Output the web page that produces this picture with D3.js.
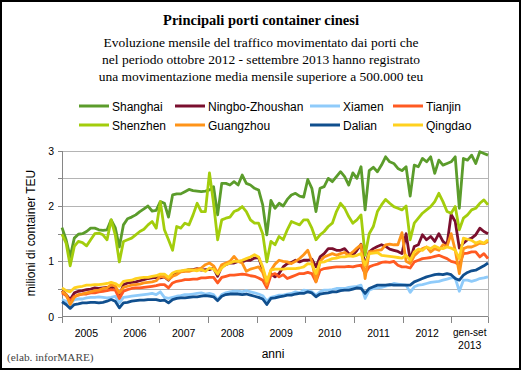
<!doctype html>
<html>
<head>
<meta charset="utf-8">
<script src="https://d3js.org/d3.v7.min.js"></script>
<style>
  body { margin: 0; background: #fff; }
  .axis path, .axis line { stroke: #868686; shape-rendering: crispEdges; }
  .axis text { font-family: "Liberation Sans", Arial, sans-serif; font-size: 10.5px; fill: #000; }
  .grid line { stroke: #b4b4b4; shape-rendering: crispEdges; }
</style>
</head>
<body>
<script>
// monthly values, millions of TEU, Jan 2005 - Sep 2013 (one row per year)
var shanghai = [
  1.61, 1.39, 1.08, 1.42, 1.49, 1.50, 1.54, 1.60, 1.60, 1.57, 1.56, 1.57,
  1.75, 1.61, 1.26, 1.66, 1.77, 1.80, 1.84, 1.90, 1.95, 2.00, 1.91, 1.92,
  2.08, 2.05, 1.80, 2.20, 2.22, 2.22, 2.26, 2.30, 2.28, 2.27, 2.26, 2.27,
  2.29, 2.35, 1.84, 2.41, 2.41, 2.38, 2.44, 2.38, 2.56, 2.41, 2.38, 2.32,
  2.29, 2.02, 1.48, 2.10, 1.96, 2.05, 2.00, 2.12, 2.20, 2.23, 2.18, 2.16,
  2.48, 2.32, 1.90, 2.32, 2.35, 2.50, 2.44, 2.53, 2.62, 2.53, 2.38, 2.60,
  2.50, 2.71, 1.93, 2.64, 2.70, 2.62, 2.74, 2.89, 2.80, 2.77, 2.68, 2.64,
  2.71, 2.18, 2.74, 2.71, 2.86, 2.80, 2.89, 2.59, 2.83, 2.74, 2.77, 2.80,
  2.89, 1.96, 2.86, 2.83, 2.92, 2.77, 2.98, 2.95, 2.92];
var shenzhen = [
  1.49, 1.33, 0.92, 1.27, 1.36, 1.34, 1.28, 1.39, 1.50, 1.51, 1.48, 1.39,
  1.75, 1.48, 0.99, 1.36, 1.39, 1.42, 1.48, 1.54, 1.58, 1.66, 1.72, 1.60,
  2.08, 1.57, 1.39, 1.20, 1.63, 1.60, 1.69, 1.66, 1.84, 2.05, 1.90, 1.90,
  2.60, 2.05, 1.39, 1.75, 1.78, 1.80, 1.90, 1.93, 1.99, 1.90, 1.75, 1.69,
  1.69, 1.50, 0.99, 1.36, 1.30, 1.45, 1.39, 1.57, 1.72, 1.69, 1.66, 1.75,
  1.75, 1.60, 1.39, 1.48, 1.54, 1.63, 1.69, 1.90, 2.05, 1.96, 1.81, 1.69,
  1.75, 1.84, 1.11, 1.50, 1.63, 1.90, 2.02, 2.12, 2.05, 1.99, 1.96, 1.93,
  2.00, 1.39, 1.69, 1.78, 1.87, 1.93, 1.99, 2.08, 2.23, 2.08, 1.90, 1.87,
  1.99, 1.57, 1.78, 1.84, 1.93, 1.96, 2.05, 2.11, 2.02];
var ningbo = [
  0.47, 0.40, 0.31, 0.43, 0.46, 0.47, 0.49, 0.50, 0.52, 0.51, 0.52, 0.53,
  0.52, 0.54, 0.37, 0.58, 0.61, 0.62, 0.63, 0.65, 0.67, 0.69, 0.70, 0.71,
  0.70, 0.72, 0.66, 0.76, 0.79, 0.82, 0.83, 0.85, 0.85, 0.87, 0.84, 0.85,
  0.85, 0.88, 0.73, 0.91, 0.94, 0.97, 0.97, 1.00, 0.99, 1.02, 1.02, 1.06,
  1.07, 0.85, 0.62, 0.78, 0.72, 0.78, 0.90, 0.96, 0.98, 1.02, 0.99, 1.02,
  1.02, 1.04, 0.90, 1.08, 1.14, 1.23, 1.23, 1.20, 1.20, 1.23, 1.14, 1.11,
  1.20, 1.31, 0.93, 1.17, 1.23, 1.27, 1.30, 1.27, 1.22, 1.20, 1.18, 1.14,
  1.50, 1.02, 1.27, 1.30, 1.48, 1.39, 1.45, 1.36, 1.50, 1.36, 1.30, 1.85,
  1.72, 1.24, 1.33, 1.39, 1.42, 1.48, 1.60, 1.54, 1.50];
var guangzhou = [
  0.46, 0.40, 0.22, 0.35, 0.40, 0.41, 0.43, 0.45, 0.47, 0.48, 0.51, 0.52,
  0.58, 0.55, 0.43, 0.53, 0.55, 0.57, 0.58, 0.59, 0.61, 0.62, 0.63, 0.65,
  0.73, 0.72, 0.67, 0.73, 0.76, 0.81, 0.82, 0.82, 0.84, 0.86, 0.88, 0.94,
  0.97, 0.92, 0.79, 0.94, 0.97, 1.00, 1.09, 1.00, 0.97, 0.82, 0.86, 0.88,
  0.90, 0.80, 0.58, 0.84, 0.95, 1.02, 1.00, 0.99, 0.96, 1.00, 1.05, 1.12,
  1.20, 1.00, 0.63, 1.00, 1.08, 1.11, 1.14, 1.11, 1.14, 1.16, 1.11, 1.17,
  1.24, 1.30, 0.69, 1.17, 1.18, 1.20, 1.21, 1.30, 1.31, 1.30, 1.30, 1.52,
  1.00, 0.96, 1.10, 1.17, 1.23, 1.26, 1.17, 1.23, 1.20, 1.30, 1.27, 1.50,
  1.20, 0.78, 1.23, 1.26, 1.26, 1.29, 1.33, 1.32, 1.36];
var qingdao = [
  0.52, 0.47, 0.45, 0.52, 0.54, 0.55, 0.57, 0.57, 0.58, 0.58, 0.59, 0.60,
  0.62, 0.60, 0.55, 0.64, 0.65, 0.66, 0.69, 0.70, 0.71, 0.71, 0.73, 0.74,
  0.77, 0.77, 0.71, 0.79, 0.82, 0.83, 0.84, 0.85, 0.84, 0.83, 0.85, 0.82,
  0.88, 0.86, 0.77, 0.88, 0.94, 0.97, 1.00, 1.00, 1.02, 1.05, 1.08, 1.12,
  1.08, 0.90, 0.64, 0.84, 0.86, 0.86, 0.86, 0.87, 0.87, 0.87, 0.88, 0.90,
  0.96, 0.95, 0.78, 0.98, 0.99, 1.02, 1.05, 1.06, 1.08, 1.08, 1.10, 1.09,
  1.11, 1.14, 0.93, 1.14, 1.15, 1.16, 1.11, 1.10, 1.09, 1.08, 1.07, 1.06,
  1.11, 1.02, 1.17, 1.22, 1.20, 1.26, 1.23, 1.28, 1.24, 1.23, 1.26, 1.24,
  1.20, 1.05, 1.42, 1.40, 1.38, 1.33, 1.36, 1.33, 1.39];
var tianjin = [
  0.43, 0.38, 0.28, 0.37, 0.39, 0.41, 0.41, 0.43, 0.43, 0.45, 0.46, 0.47,
  0.49, 0.48, 0.33, 0.46, 0.49, 0.51, 0.52, 0.52, 0.53, 0.54, 0.55, 0.56,
  0.58, 0.58, 0.52, 0.61, 0.64, 0.65, 0.67, 0.67, 0.68, 0.68, 0.70, 0.70,
  0.71, 0.71, 0.61, 0.71, 0.73, 0.75, 0.75, 0.76, 0.77, 0.76, 0.74, 0.73,
  0.70, 0.66, 0.52, 0.75, 0.78, 0.72, 0.76, 0.69, 0.72, 0.75, 0.78, 0.78,
  0.80, 0.78, 0.63, 0.84, 0.87, 0.88, 0.89, 0.90, 0.90, 0.90, 0.91, 0.90,
  0.92, 0.93, 0.78, 0.90, 0.93, 0.95, 0.98, 0.99, 0.98, 1.00, 0.93, 0.90,
  0.90, 0.88, 0.99, 1.02, 1.05, 1.06, 1.07, 1.09, 1.11, 1.08, 1.05, 1.00,
  0.98, 0.94, 1.14, 1.15, 1.17, 1.17, 1.08, 1.14, 1.05];
var xiamen = [
  0.31, 0.28, 0.23, 0.31, 0.32, 0.32, 0.34, 0.35, 0.35, 0.36, 0.35, 0.34,
  0.35, 0.37, 0.25, 0.35, 0.36, 0.37, 0.38, 0.39, 0.40, 0.41, 0.42, 0.40,
  0.45, 0.35, 0.33, 0.35, 0.37, 0.38, 0.40, 0.40, 0.41, 0.42, 0.43, 0.41,
  0.42, 0.40, 0.31, 0.40, 0.43, 0.45, 0.46, 0.46, 0.45, 0.47, 0.45, 0.43,
  0.41, 0.38, 0.28, 0.35, 0.37, 0.39, 0.39, 0.41, 0.42, 0.45, 0.43, 0.48,
  0.47, 0.45, 0.39, 0.45, 0.48, 0.48, 0.49, 0.51, 0.51, 0.51, 0.53, 0.54,
  0.55, 0.57, 0.33, 0.48, 0.51, 0.52, 0.53, 0.55, 0.57, 0.60, 0.59, 0.58,
  0.57, 0.44, 0.54, 0.57, 0.58, 0.60, 0.62, 0.63, 0.64, 0.66, 0.68, 0.70,
  0.70, 0.46, 0.66, 0.66, 0.64, 0.66, 0.69, 0.70, 0.72];
var dalian = [
  0.27, 0.22, 0.15, 0.22, 0.23, 0.25, 0.25, 0.26, 0.26, 0.25, 0.26, 0.28,
  0.31, 0.28, 0.16, 0.25, 0.26, 0.28, 0.29, 0.30, 0.30, 0.31, 0.31, 0.31,
  0.29, 0.30, 0.25, 0.31, 0.33, 0.34, 0.34, 0.35, 0.36, 0.36, 0.37, 0.38,
  0.37, 0.36, 0.29, 0.37, 0.40, 0.41, 0.41, 0.41, 0.40, 0.41, 0.39, 0.37,
  0.35, 0.32, 0.22, 0.33, 0.34, 0.36, 0.37, 0.39, 0.39, 0.41, 0.42, 0.42,
  0.45, 0.43, 0.36, 0.41, 0.42, 0.43, 0.45, 0.45, 0.47, 0.48, 0.48, 0.50,
  0.52, 0.51, 0.42, 0.51, 0.54, 0.57, 0.57, 0.57, 0.58, 0.57, 0.57, 0.57,
  0.57, 0.57, 0.63, 0.66, 0.69, 0.72, 0.74, 0.76, 0.77, 0.76, 0.78, 0.76,
  0.69, 0.66, 0.75, 0.80, 0.83, 0.84, 0.88, 0.92, 0.97];

var yearLabels = ["2005", "2006", "2007", "2008", "2009", "2010", "2011", "2012"];
var yearTicks = [0, 12, 24, 36, 48, 60, 72, 84, 96, 105];   // in months
var yTicks = [0, 0.5, 1, 1.5, 2, 2.5, 3];

// legend order (row by row)
var series = [
  {name: "Shanghai",        values: shanghai,  color: "#5b9c2b"},
  {name: "Ningbo-Zhoushan", values: ningbo,    color: "#7a0f2e"},
  {name: "Xiamen",          values: xiamen,    color: "#8fcbfa"},
  {name: "Tianjin",         values: tianjin,   color: "#ff5a22"},
  {name: "Shenzhen",        values: shenzhen,  color: "#a3cd0c"},
  {name: "Guangzhou",       values: guangzhou, color: "#ff9419"},
  {name: "Dalian",          values: dalian,    color: "#104f8e"},
  {name: "Qingdao",         values: qingdao,   color: "#ffd11f"}
];

var W = 521, H = 370;
var plotLeft = 62, plotRight = 488, plotTop = 150.7, plotBottom = 316.7;

var svg = d3.select("body").append("svg").attr("width", W).attr("height", H);

svg.append("rect").attr("x", 1).attr("y", 1).attr("width", W - 2).attr("height", H - 2)
    .attr("fill", "#fff").attr("stroke", "#000").attr("stroke-width", 2);

var x = d3.scaleLinear().domain([0, shanghai.length - 1]).range([plotLeft, plotRight]);
var xMonths = d3.scaleLinear().domain([0, 105]).range([plotLeft, plotRight]);
var y = d3.scaleLinear().domain([0, 3]).range([plotBottom, plotTop]);

// titles
svg.append("text").attr("x", 261).attr("y", 25).attr("text-anchor", "middle")
    .style("font-family", "'Liberation Serif', 'Times New Roman', serif")
    .style("font-size", "14.5px").style("font-weight", "bold")
    .text("Principali porti container cinesi");

var sub = ["Evoluzione mensile del traffico movimentato dai porti che",
           "nel periodo ottobre 2012 - settembre 2013 hanno registrato",
           "una movimentazione media mensile superiore a 500.000 teu"];
svg.selectAll("text.sub").data(sub).enter().append("text")
    .attr("class", "sub")
    .attr("x", 261).attr("y", function(d, i) { return 47 + i * 17; })
    .attr("text-anchor", "middle")
    .style("font-family", "'Liberation Serif', 'Times New Roman', serif")
    .style("font-size", "13.5px")
    .text(function(d) { return d; });

// grid
svg.append("g").attr("class", "grid").selectAll("line")
    .data(yTicks.slice(1)).enter().append("line")
    .attr("x1", plotLeft).attr("x2", plotRight)
    .attr("y1", function(d) { return Math.round(y(d)) + 0.5; })
    .attr("y2", function(d) { return Math.round(y(d)) + 0.5; });
svg.append("line")
    .attr("x1", plotRight + 0.5).attr("x2", plotRight + 0.5)
    .attr("y1", y(3)).attr("y2", plotBottom)
    .attr("stroke", "#b4b4b4").attr("shape-rendering", "crispEdges");

// axes
var yAxis = svg.append("g").attr("class", "axis")
    .attr("transform", "translate(" + plotLeft + ",0)")
    .call(d3.axisLeft(y).tickValues(yTicks).tickSize(4).tickPadding(4)
        .tickFormat(function(d) { return d % 1 === 0 ? d : ""; }));
yAxis.select(".domain").attr("d", "M0," + y(3) + "V" + plotBottom);

var xAxis = svg.append("g").attr("class", "axis")
    .attr("transform", "translate(0," + plotBottom + ")")
    .call(d3.axisBottom(xMonths).tickValues(yearTicks).tickSize(6).tickFormat(""));
xAxis.select(".domain").attr("d", "M" + plotLeft + ",0H" + plotRight);

var lblFont = "'Liberation Sans', Arial, sans-serif";
svg.selectAll("text.year").data(yearLabels).enter().append("text")
    .attr("class", "year")
    .attr("x", function(d, i) { return xMonths(i * 12 + 6); })
    .attr("y", 337).attr("text-anchor", "middle")
    .style("font-family", lblFont).style("font-size", "10.5px")
    .text(function(d) { return d; });
svg.append("text").attr("x", xMonths(100.5)).attr("y", 336).attr("text-anchor", "middle")
    .style("font-family", lblFont).style("font-size", "10px").text("gen-set");
svg.append("text").attr("x", xMonths(100.5)).attr("y", 349).attr("text-anchor", "middle")
    .style("font-family", lblFont).style("font-size", "10.5px").text("2013");

svg.append("text").attr("x", 273).attr("y", 358).attr("text-anchor", "middle")
    .style("font-family", lblFont).style("font-size", "12px").text("anni");

svg.append("text").attr("transform", "translate(35,233) rotate(-90)")
    .attr("text-anchor", "middle")
    .style("font-family", lblFont).style("font-size", "12px")
    .text("milioni di container TEU");

svg.append("text").attr("x", 7).attr("y", 361)
    .style("font-family", "'Liberation Serif', 'Times New Roman', serif")
    .style("font-size", "11.3px").attr("fill", "#444")
    .text("(elab. inforMARE)");

// lines
var line = d3.line()
    .x(function(d, i) { return x(i); })
    .y(function(d) { return y(d); });

svg.append("g").selectAll("path").data(series).enter().append("path")
    .attr("d", function(d) { return line(d.values); })
    .attr("fill", "none")
    .attr("stroke", function(d) { return d.color; })
    .attr("stroke-width", 2.8)
    .attr("stroke-linejoin", "round");

// legend
var legX = [79, 175, 310, 393];
var leg = svg.append("g").selectAll("g").data(series).enter().append("g")
    .attr("transform", function(d, i) {
        return "translate(" + legX[i % 4] + "," + (106 + Math.floor(i / 4) * 19) + ")";
    });
leg.append("line").attr("x1", 0).attr("x2", 30).attr("y1", 0).attr("y2", 0)
    .attr("stroke", function(d) { return d.color; }).attr("stroke-width", 3);
leg.append("text").attr("x", 33).attr("y", 4.5)
    .style("font-family", lblFont).style("font-size", "12px")
    .text(function(d) { return d.name; });
</script>
</body>
</html>
